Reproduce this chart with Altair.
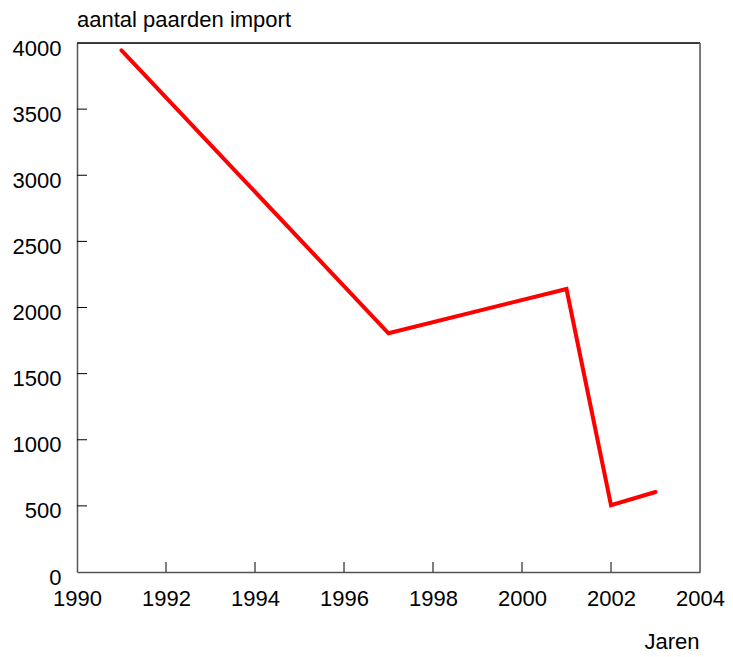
import altair as alt
import pandas as pd

years = [1991, 1997, 2001, 2002, 2003]
imports = [3945, 1805, 2140, 505, 605]

x_ticks = [1990, 1992, 1994, 1996, 1998, 2000, 2002, 2004]
y_ticks = [0, 500, 1000, 1500, 2000, 2500, 3000, 3500, 4000]

W, H = 623, 529
FONT = "Liberation Sans"
FS = 22

df = pd.DataFrame({"jaar": years, "import": imports})
xt = pd.DataFrame({"t": x_ticks[1:-1]})
yt = pd.DataFrame({"t": y_ticks[1:-1]})

xscale = alt.Scale(domain=[1990, 2004], nice=False, zero=False)
yscale = alt.Scale(domain=[0, 4000], nice=False)

line = alt.Chart(df).mark_line(color="#ff0000", strokeWidth=4, strokeCap="round").encode(
    x=alt.X("jaar:Q", scale=xscale,
            axis=alt.Axis(values=x_ticks, format="d", title="Jaren", ticks=False, tickSize=0,
                          grid=False, labelFontSize=FS, labelFont=FONT, labelColor="black",
                          labelPadding=16, domainColor="#555555", domainWidth=1.5,
                          titleFontSize=FS, titleFont=FONT, titleFontWeight="normal",
                          titleColor="black", titleX=W - 1, titleY=76, titleAlign="right",
                          titleBaseline="alphabetic", labelFlush=False, labelOverlap=False)),
    y=alt.Y("import:Q", scale=yscale,
            axis=alt.Axis(values=y_ticks, format="d", title=None, ticks=False, tickSize=0,
                          grid=False, labelFontSize=FS, labelFont=FONT, labelColor="black",
                          labelPadding=16, labelOffset=5, domainColor="#555555",
                          domainWidth=1.5, labelFlush=False, labelOverlap=False)),
)

xtick_rules = alt.Chart(xt).mark_rule(color="black", strokeWidth=1).encode(
    x=alt.X("t:Q", scale=xscale),
    y=alt.value(H),
    y2=alt.value(H - 10),
)

ytick_rules = alt.Chart(yt).mark_rule(color="black", strokeWidth=1).encode(
    y=alt.Y("t:Q", scale=yscale),
    x=alt.value(0),
    x2=alt.value(10),
)

frame = pd.DataFrame({"a": [0]})
top_rule = alt.Chart(frame).mark_rule(color="black", strokeWidth=1.5).encode(
    x=alt.value(0), x2=alt.value(W), y=alt.value(0)
)
right_rule = alt.Chart(frame).mark_rule(color="#555555", strokeWidth=1.5).encode(
    x=alt.value(W), y=alt.value(0), y2=alt.value(H)
)

chart = alt.layer(xtick_rules, ytick_rules, top_rule, right_rule, line).properties(
    width=W,
    height=H,
    autosize=alt.AutoSizeParams(type="none"),
    padding={"left": 69, "top": 35, "right": 25, "bottom": 77},
    title=alt.TitleParams("aantal paarden import", anchor="start", fontSize=FS, font=FONT,
                          fontWeight="normal", color="black", offset=5, frame="group"),
).configure_view(stroke=None).configure(background="white")

chart.save("out.html", embed_options={"renderer": "svg", "actions": False})
